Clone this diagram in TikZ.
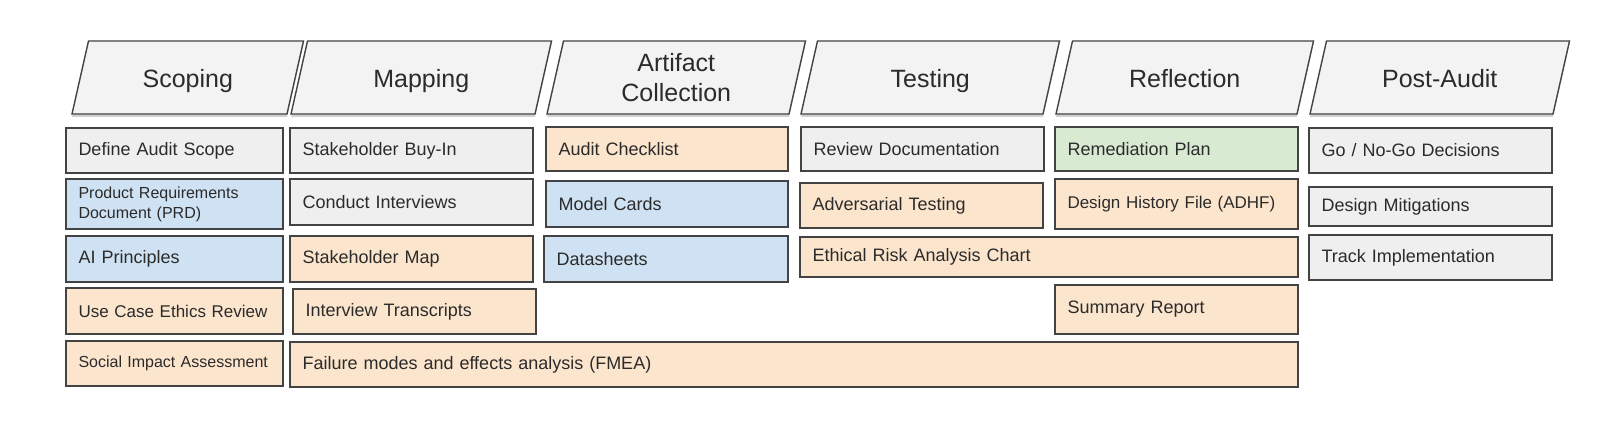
\documentclass[tikz,border=0pt]{standalone}
\usepackage{fontspec}
\setmainfont{Liberation Sans}
\usetikzlibrary{shadows}
\definecolor{bordc}{HTML}{434343}
\definecolor{txtc}{HTML}{2B2B2B}
\definecolor{hdrfill}{HTML}{F3F3F3}
\definecolor{grayfill}{HTML}{EFEFEF}
\definecolor{orangefill}{HTML}{FCE5CD}
\definecolor{bluefill}{HTML}{CFE2F3}
\definecolor{greenfill}{HTML}{D9EAD3}
\tikzset{
  hdrshape/.style={draw=bordc, line width=1.4pt, fill=hdrfill, line join=miter,
     drop shadow={shadow xshift=0pt, shadow yshift=-3pt, fill=black, opacity=0.18}},
  hdrtext/.style={text=txtc, font=\fontsize{25}{30}\selectfont, align=center, inner sep=0pt},
  box/.style={draw=bordc, line width=1.4pt, text=txtc, align=left, inner xsep=12.5pt, inner ysep=0pt,
     font=\fontsize{18}{21}\selectfont},
  small/.style={font=\fontsize{16}{20}\selectfont},
  mid/.style={font=\fontsize{17}{20}\selectfont}
}
\newcommand{\bx}[8][]{%
  \pgfmathsetmacro\bw{#5-#3}\pgfmathsetmacro\bh{#6-#4}%
  \pgfmathsetmacro\tw{#5-#3-23}%
  \pgfmathsetmacro\bcx{(#3+#5)/2}\pgfmathsetmacro\bcy{(#4+#6)/2}%
  \node[box, fill=#7, minimum width=\bw pt, minimum height=\bh pt, text width=\tw pt, #1] (#2) at (\bcx,\bcy) {#8};}
\newcommand{\hdshape}[2]{%
  \draw[hdrshape] (#1,114) -- (#2,114) -- (#2+16.5,41) -- (#1+16.5,41) -- cycle;}
\begin{document}
\begin{tikzpicture}[x=1pt,y=-1pt]
\useasboundingbox (0,0) rectangle (1600,438);
% headers
\hdshape{72}{287}
\node[hdrtext, anchor=base] (hScoping) at (187.75,87.5) {Scoping};
\hdshape{291}{535}
\node[hdrtext, anchor=base] (hMapping) at (421.25,87.5) {Mapping};
\hdshape{547}{789}
\node[hdrtext] (hArtifact) at (676.25,77.5) {Artifact\\Collection};
\hdshape{801}{1043}
\node[hdrtext, anchor=base] (hTesting) at (930.25,87.5) {Testing};
\hdshape{1056}{1297}
\node[hdrtext, anchor=base] (hReflection) at (1184.75,87.5) {Reflection};
\hdshape{1310}{1553}
\node[hdrtext, anchor=base] (hPost) at (1439.75,87.5) {Post-Audit};
% Scoping column
\bx{sc1}{67}{128}{282}{173}{grayfill}{Define Audit Scope}
\bx[small]{sc2}{67}{179}{282}{229}{bluefill}{Product Requirements\\Document (PRD)}
\bx{sc3}{67}{236}{282}{282}{bluefill}{AI Principles}
\bx[mid]{sc4}{67}{288}{282}{334}{orangefill}{Use Case Ethics Review}
\bx[small]{sc5}{67}{341}{282}{386}{orangefill}{Social Impact Assessment}
% Mapping column
\bx{mp1}{291}{128}{532}{173}{grayfill}{Stakeholder Buy-In}
\bx{mp2}{291}{179}{532}{225}{grayfill}{Conduct Interviews}
\bx{mp3}{291}{236}{532}{282}{orangefill}{Stakeholder Map}
\bx{mp4}{294}{289}{535}{334}{orangefill}{Interview Transcripts}
\bx{fmea}{291}{342}{1297}{387}{orangefill}{Failure modes and effects analysis (FMEA)}
% Artifact column
\bx{ac1}{547}{127}{787}{171}{orangefill}{Audit Checklist}
\bx{ac2}{547}{181}{787}{227}{bluefill}{Model Cards}
\bx{ac3}{545}{236}{787}{282}{bluefill}{Datasheets}
% Testing column
\bx{ts1}{802}{127}{1043}{171}{grayfill}{Review Documentation}
\bx{ts2}{801}{183}{1042}{228}{orangefill}{Adversarial Testing}
\bx{ts3}{801}{237}{1297}{277}{orangefill}{Ethical Risk Analysis Chart}
% Reflection column
\bx{rf1}{1056}{127}{1297}{171}{greenfill}{Remediation Plan}
\bx[mid]{rf2}{1056}{179}{1297}{229}{orangefill}{Design History File (ADHF)}
\bx{rf3}{1056}{285}{1297}{334}{orangefill}{Summary Report}
% Post-Audit column
\bx{pa1}{1310}{128}{1551}{173}{grayfill}{Go / No-Go Decisions}
\bx{pa2}{1310}{187}{1551}{226}{grayfill}{Design Mitigations}
\bx{pa3}{1310}{235}{1551}{280}{grayfill}{Track Implementation}
\end{tikzpicture}
\end{document}
